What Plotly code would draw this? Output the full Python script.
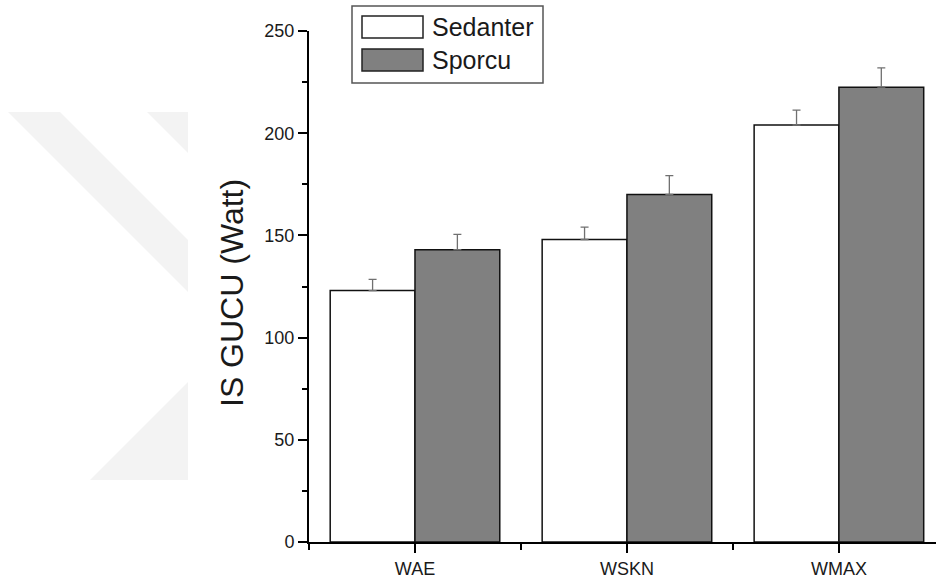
import plotly.graph_objects as go

# Work-capacity means (Watt) and upper error values per test
categories = ["WAE", "WSKN", "WMAX"]
sedanter = [123, 148, 204]
sedanter_err = [5.5, 6.0, 7.3]
sporcu = [143, 170, 222.5]
sporcu_err = [7.5, 9.2, 9.5]
series_names = ["Sedanter", "Sporcu"]
y_ticks = [0, 50, 100, 150, 200, 250]

W, H = 936, 583
L, R, T, B = 309, 0, 31, 41
PW, PH = W - L - R, H - T - B


def px(x):
    return (x - L) / PW


def py(y):
    return (H - B - y) / PH


FONT = "Liberation Sans, Arial, sans-serif"
TXT = "#1a1a1a"
xpos = list(range(len(categories)))

fig = go.Figure()
fig.add_trace(go.Bar(
    x=xpos, y=sedanter, name=series_names[0],
    marker=dict(color="white", line=dict(color="#111111", width=1.5)),
    error_y=dict(type="data", array=sedanter_err, symmetric=False,
                 arrayminus=[0] * len(sedanter), color="#707070",
                 thickness=1.3, width=4),
))
fig.add_trace(go.Bar(
    x=xpos, y=sporcu, name=series_names[1],
    marker=dict(color="#808080", line=dict(color="#111111", width=1.5)),
    error_y=dict(type="data", array=sporcu_err, symmetric=False,
                 arrayminus=[0] * len(sporcu), color="#707070",
                 thickness=1.3, width=4),
))

# faint diagonal watermark bands behind the plot
band_color = "#f3f3f3"
bands = [
    [(8, 112), (60, 112), (188, 240), (188, 292)],
    [(147, 112), (188, 112), (188, 153)],
    [(90, 480), (188, 480), (188, 382)],
]
shapes = []
for pts in bands:
    path = "M " + " L ".join(f"{px(a):.5f},{py(b):.5f}" for a, b in pts) + " Z"
    shapes.append(dict(type="path", xref="paper", yref="paper", path=path,
                       fillcolor=band_color, line=dict(width=0), layer="below"))

# boxed legend with large swatches
shapes.append(dict(type="rect", xref="paper", yref="paper",
                   x0=px(352), x1=px(543), y0=py(83), y1=py(6),
                   line=dict(color="#555555", width=1.5), fillcolor="white"))
swatch_fill = ["white", "#808080"]
swatch_rows = [(16, 38), (49, 71)]
annotations = []
for name, fill, (y0, y1) in zip(series_names, swatch_fill, swatch_rows):
    shapes.append(dict(type="rect", xref="paper", yref="paper",
                       x0=px(362), x1=px(423), y0=py(y1), y1=py(y0),
                       line=dict(color="#222222", width=1.5), fillcolor=fill))
    annotations.append(dict(xref="paper", yref="paper", x=px(430),
                            y=py((y0 + y1) / 2), text=name, showarrow=False,
                            xanchor="left", yanchor="middle",
                            font=dict(family=FONT, size=25, color=TXT)))

annotations.append(dict(xref="paper", yref="paper", x=px(232), y=py(293),
                        text="IS GUCU (Watt)", textangle=-90, showarrow=False,
                        xanchor="center", yanchor="middle",
                        font=dict(family=FONT, size=32, color=TXT)))

fig.update_layout(
    width=W, height=H,
    margin=dict(l=L, r=R, t=T, b=B, pad=0),
    paper_bgcolor="white", plot_bgcolor="rgba(0,0,0,0)",
    barmode="group", bargap=0.2, bargroupgap=0,
    showlegend=False,
    shapes=shapes, annotations=annotations,
    font=dict(family=FONT, color=TXT),
)
fig.update_xaxes(
    range=[-0.5, 2.458], tickmode="array", tickvals=xpos, ticktext=categories,
    showline=True, linecolor="black", linewidth=2, showgrid=False,
    zeroline=False, ticks="outside", ticklen=9, tickwidth=1.5,
    tickcolor="black", tickfont=dict(family=FONT, size=18, color=TXT),
    minor=dict(tickmode="array", tickvals=[-0.5, 0.5, 1.5], ticks="outside",
               ticklen=6, tickwidth=1.5, tickcolor="black"),
)
fig.update_yaxes(
    range=[0, 250], tickmode="array", tickvals=y_ticks,
    showline=True, linecolor="black", linewidth=2, showgrid=False,
    zeroline=False, ticks="outside", ticklen=9, tickwidth=1.5,
    tickcolor="black", tickfont=dict(family=FONT, size=18, color=TXT),
    minor=dict(dtick=25, tick0=0, ticks="outside", ticklen=5, tickwidth=1.5,
               tickcolor="black"),
)

fig.write_html("out.html")
